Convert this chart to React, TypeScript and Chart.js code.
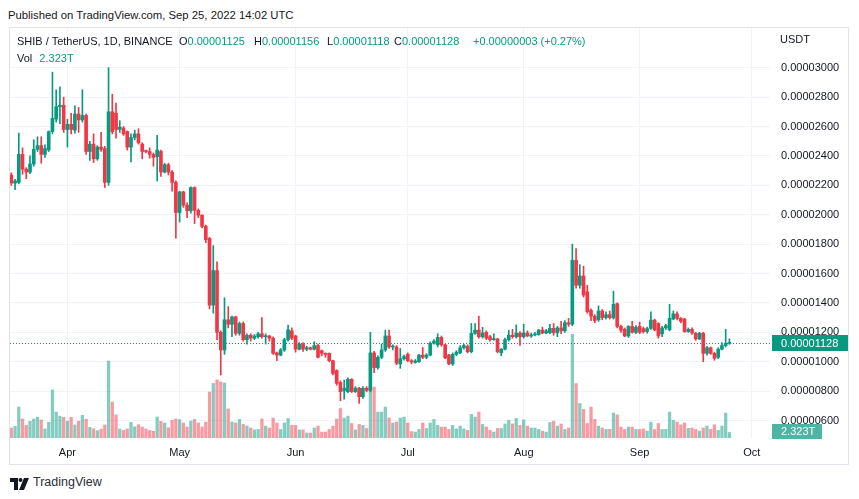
import React, { useEffect, useRef } from "react";
import { Chart, registerables } from "chart.js";

Chart.register(...registerables);

// Prices are in micro-USDT (1 = 0.000001 USDT); volumes in trillions (T).
// Day index 0 = 2022-03-17, daily candles to 2022-09-25.
const OPEN = [
  22.7, 22.15, 22.2, 24.1, 23.1, 22.9, 23.45, 24.45, 24.7, 24.1,
  24.4, 25.65, 26.5, 27.35, 27.45, 25.8, 26.15, 25.75, 26.85, 26.45,
  26.75, 24.3, 24.8, 23.8, 24.6, 24.5, 22.2, 27.0, 26.9, 25.8,
  25.9, 25.65, 24.6, 25.25, 25.5, 24.8, 24.35, 24.3, 24.1, 23.95,
  24.3, 22.9, 23.4, 22.9, 22.2, 20.15, 21.55, 20.65, 20.27, 21.85,
  20.3, 19.97, 19.2, 18.4, 13.85, 16.2, 12.0, 10.8, 12.85, 12.55,
  13.05, 11.93, 12.6, 11.5, 11.8, 11.6, 11.7, 11.9, 11.7, 11.75,
  11.6, 10.6, 10.45, 10.8, 11.5, 12.1, 11.75, 10.85, 11.2, 10.85,
  10.95, 10.85, 11.1, 10.75, 10.57, 10.57, 10.07, 9.4, 8.6, 8.02,
  7.96, 8.8, 7.96, 8.2, 7.62, 8.2, 8.05, 10.6, 9.6, 10.3,
  10.8, 11.75, 11.0, 11.0, 9.85, 10.2, 10.5, 10.07, 9.95, 10.0,
  10.45, 10.3, 10.45, 11.25, 11.15, 11.65, 11.15, 10.45, 9.85, 10.5,
  10.6, 10.95, 11.05, 10.68, 11.93, 12.15, 11.7, 12.0, 11.7, 11.5,
  11.55, 10.6, 10.85, 11.5, 11.8, 11.7, 11.95, 11.7, 11.95, 11.75,
  11.82, 11.85, 12.15, 11.95, 11.97, 12.27, 11.97, 12.3, 12.1, 12.65,
  12.55, 16.9, 15.2, 15.83, 14.75, 13.5, 13.1, 12.85, 13.45, 13.0,
  13.2, 12.98, 13.95, 12.4, 12.2, 11.75, 12.4, 12.0, 12.4, 12.25,
  12.05, 12.27, 12.83, 12.6, 11.9, 12.3, 12.17, 12.9, 13.25, 12.95,
  12.9, 12.05, 12.2, 11.93, 11.55, 11.93, 10.57, 10.95, 10.57, 10.3,
  10.85, 11.1, 11.25,
];
const HIGH = [
  22.85, 22.4, 25.55, 24.55, 23.2, 24.0, 25.1, 25.3, 25.3, 24.75,
  25.7, 29.7, 28.5, 28.7, 28.0, 26.5, 26.9, 27.4, 27.3, 28.5,
  26.85, 25.0, 25.5, 24.7, 25.6, 24.65, 30.0, 28.2, 27.6, 26.4,
  26.0, 25.7, 25.5, 25.75, 25.85, 24.9, 24.4, 24.55, 24.2, 25.4,
  24.4, 23.5, 23.5, 23.0, 22.3, 21.6, 21.6, 20.8, 21.9, 21.9,
  20.4, 20.0, 19.3, 18.45, 17.9, 16.8, 12.1, 14.35, 13.75, 13.1,
  13.1, 12.7, 12.7, 11.9, 11.9, 11.85, 12.0, 13.0, 11.9, 11.8,
  11.7, 10.65, 10.9, 11.6, 12.5, 12.3, 11.8, 11.3, 11.3, 11.05,
  11.0, 11.36, 11.2, 10.8, 10.6, 10.6, 10.1, 9.45, 8.7, 8.75,
  8.9, 8.85, 8.3, 8.25, 8.3, 8.3, 12.0, 10.7, 10.4, 11.2,
  12.15, 12.15, 11.15, 11.1, 10.9, 10.45, 10.6, 10.15, 10.15, 10.5,
  10.97, 10.55, 11.35, 11.5, 11.9, 11.75, 11.2, 10.5, 10.6, 10.75,
  11.1, 11.2, 11.15, 12.6, 12.6, 13.1, 12.34, 12.1, 11.8, 11.9,
  11.6, 10.9, 11.6, 12.15, 12.2, 12.5, 12.05, 12.55, 12.1, 11.95,
  12.0, 12.2, 12.35, 12.2, 12.55, 12.6, 12.4, 12.75, 12.8, 12.95,
  18.0, 17.7, 16.6, 16.5, 15.2, 13.6, 13.2, 13.8, 13.55, 13.4,
  13.45, 14.8, 14.0, 12.5, 12.3, 12.45, 12.75, 12.45, 12.7, 12.35,
  12.35, 13.4, 12.9, 12.65, 12.4, 12.55, 13.9, 13.45, 13.4, 13.0,
  12.95, 12.3, 12.3, 12.0, 12.0, 12.0, 11.05, 11.0, 10.65, 10.95,
  11.3, 12.2, 11.56,
];
const LOW = [
  22.0, 21.7, 22.1, 22.75, 22.45, 22.8, 23.3, 24.3, 23.5, 23.9,
  24.3, 25.5, 26.3, 26.2, 25.6, 24.6, 25.5, 25.55, 25.6, 26.3,
  24.1, 23.7, 23.55, 23.7, 24.3, 21.85, 22.0, 25.5, 25.2, 25.6,
  25.4, 24.4, 23.6, 25.1, 24.8, 23.8, 24.2, 23.85, 23.3, 22.3,
  22.6, 22.85, 22.7, 21.6, 18.4, 19.5, 20.5, 19.8, 20.1, 19.4,
  19.8, 19.1, 18.1, 13.6, 13.3, 11.5, 9.1, 10.5, 12.3, 11.7,
  11.8, 11.8, 11.4, 11.2, 11.4, 11.5, 11.6, 11.6, 11.2, 11.4,
  10.5, 10.07, 10.4, 10.7, 11.4, 11.5, 10.65, 10.8, 10.7, 10.75,
  10.8, 10.8, 10.25, 10.4, 10.3, 10.0, 9.1, 8.4, 7.35, 7.45,
  7.9, 7.9, 7.9, 7.17, 7.5, 7.95, 7.95, 9.25, 9.5, 10.2,
  10.7, 10.9, 10.8, 9.8, 9.55, 10.1, 10.0, 9.85, 9.9, 9.95,
  10.2, 10.2, 10.4, 11.2, 11.0, 11.05, 10.2, 9.8, 9.75, 10.4,
  10.55, 10.85, 10.6, 10.6, 11.85, 11.6, 11.6, 11.5, 11.4, 11.45,
  10.6, 10.4, 10.8, 11.4, 11.6, 11.6, 11.1, 11.6, 11.7, 11.65,
  11.75, 11.8, 11.9, 11.9, 11.9, 11.8, 11.7, 11.9, 12.0, 12.4,
  12.45, 15.0, 15.0, 14.4, 13.3, 12.8, 12.65, 12.75, 12.85, 12.9,
  12.9, 12.9, 12.3, 12.0, 11.7, 11.65, 11.95, 11.9, 11.9, 11.95,
  11.95, 12.2, 12.1, 11.6, 11.7, 12.2, 12.1, 12.85, 12.85, 12.65,
  12.0, 12.0, 11.85, 11.45, 11.5, 10.0, 10.45, 10.5, 10.1, 10.2,
  10.8, 11.0, 11.18,
];
const CLOSE = [
  22.15, 22.3, 24.1, 23.1, 22.9, 23.45, 24.45, 24.7, 24.1, 24.5,
  25.65, 26.55, 27.35, 27.45, 25.8, 26.15, 25.8, 26.85, 26.45, 26.75,
  24.3, 24.8, 23.8, 24.6, 24.45, 22.2, 27.0, 25.65, 25.8, 25.95,
  25.5, 24.6, 25.25, 25.5, 24.9, 24.3, 24.3, 24.1, 23.9, 24.4,
  22.9, 23.4, 22.9, 22.2, 20.15, 21.55, 20.65, 20.27, 21.85, 20.3,
  19.97, 19.2, 18.3, 13.85, 16.2, 12.0, 10.8, 12.85, 12.55, 13.05,
  11.93, 12.6, 11.5, 11.8, 11.6, 11.75, 11.9, 11.7, 11.75, 11.6,
  10.57, 10.45, 10.8, 11.5, 12.17, 11.6, 10.85, 11.2, 10.85, 10.95,
  10.85, 11.1, 10.3, 10.57, 10.5, 10.07, 9.2, 8.53, 7.96, 8.2,
  8.8, 7.96, 8.2, 7.62, 8.2, 8.05, 10.6, 9.6, 10.3, 10.8,
  11.75, 11.0, 11.05, 9.9, 10.2, 10.35, 10.07, 9.98, 10.05, 10.45,
  10.3, 10.45, 11.25, 11.4, 11.65, 11.15, 10.25, 9.85, 10.5, 10.65,
  10.95, 11.1, 10.68, 11.93, 12.15, 11.7, 11.95, 11.6, 11.5, 11.55,
  10.68, 10.85, 11.5, 11.8, 11.7, 11.95, 11.7, 11.95, 11.75, 11.82,
  11.85, 12.15, 11.95, 12.1, 12.27, 11.97, 12.3, 12.1, 12.65, 12.55,
  16.9, 15.2, 15.83, 14.53, 13.4, 13.1, 12.8, 13.45, 13.0, 13.2,
  13.0, 13.9, 12.4, 12.15, 11.75, 12.4, 12.0, 12.35, 12.0, 12.05,
  12.25, 12.83, 12.15, 11.75, 12.3, 12.45, 12.95, 13.25, 12.95, 12.75,
  12.05, 12.2, 11.95, 11.55, 11.93, 10.57, 10.95, 10.57, 10.23, 10.85,
  11.1, 11.25, 11.28,
];
const VOLUME = [
  4.2, 4.9, 13.0, 8.0, 5.3, 7.0, 8.0, 8.7, 7.6, 3.8,
  6.6, 20.2, 10.9, 9.2, 8.7, 7.1, 8.7, 5.5, 7.1, 9.5,
  7.9, 4.5, 3.9, 3.1, 3.7, 5.5, 32.3, 15.1, 9.7, 3.8,
  3.2, 3.8, 6.6, 4.7, 5.6, 4.6, 3.8, 3.2, 2.8, 8.8,
  7.0, 6.3, 4.3, 7.4, 8.0, 7.7, 6.3, 4.6, 7.1, 7.8,
  6.3, 4.6, 6.7, 19.3, 22.9, 24.4, 23.5, 23.1, 12.2, 6.7,
  6.3, 7.8, 5.7, 5.0, 4.2, 3.4, 3.6, 8.0, 5.0, 4.2,
  8.4, 6.3, 3.6, 6.3, 8.2, 5.3, 5.3, 3.4, 3.4, 2.1,
  2.1, 4.2, 5.0, 2.5, 2.5, 3.6, 5.0, 8.0, 12.4, 8.4,
  9.2, 6.1, 3.4, 5.7, 5.3, 4.0, 21.8, 21.4, 10.9, 10.9,
  13.0, 8.4, 6.3, 6.7, 8.4, 8.8, 6.3, 2.7, 2.5, 3.6,
  6.3, 4.0, 6.3, 7.8, 5.3, 4.6, 4.6, 3.6, 5.3, 3.8,
  5.0, 3.8, 3.2, 9.9, 8.8, 10.9, 5.7, 4.6, 3.2, 2.5,
  4.0, 4.0, 5.9, 7.4, 5.9, 8.2, 5.3, 7.6, 5.0, 4.2,
  4.2, 3.6, 2.9, 2.5, 6.5, 7.1, 5.0, 5.9, 3.6, 4.2,
  43.5, 22.9, 14.5, 12.0, 6.1, 13.0, 7.8, 5.0, 4.2, 3.6,
  3.6, 10.5, 9.7, 4.6, 3.6, 4.6, 4.6, 3.6, 3.6, 3.8,
  2.9, 6.7, 3.6, 6.1, 3.6, 3.6, 10.9, 7.4, 6.7, 5.5,
  6.3, 4.0, 4.2, 3.6, 2.9, 4.2, 5.0, 3.6, 5.5, 3.2,
  5.0, 10.5, 2.323,
];

const MONTH_TICK_DAYS = [15, 45, 76, 106, 137, 168, 198];
const MONTH_LABELS = ["Apr", "May", "Jun", "Jul", "Aug", "Sep", "Oct"];
const PRICE_TICKS = [6, 8, 10, 12, 14, 16, 18, 20, 22, 24, 26, 28, 30];

const X_MIN = -0.35;
const X_MAX = 202.85;
const Y_MIN = 4.81;
const Y_MAX = 32.77;
const VOL_MAX = 172.6;

const UP = "#089981";
const DOWN = "#f23645";
const UP_VOL = "rgba(8,153,129,0.5)";
const DOWN_VOL = "rgba(242,54,69,0.5)";
const GRID = "#f0f3fa";
const TEXT = "#131722";
const FONT = "'Liberation Sans', Arial, sans-serif";

const lastPricePlugin = {
  id: "lastPrice",
  afterDraw(chart: any) {
    const { ctx, chartArea, scales } = chart;
    const last = CLOSE.length - 1;
    const y = Math.round(scales.y.getPixelForValue(CLOSE[last])) + 0.5;
    ctx.save();
    ctx.strokeStyle = UP;
    ctx.lineWidth = 1;
    ctx.setLineDash([1, 2]);
    ctx.beginPath();
    ctx.moveTo(chartArea.left, y);
    ctx.lineTo(chartArea.right, y);
    ctx.stroke();
    ctx.setLineDash([]);
    const bx = chartArea.right + 2;
    ctx.fillStyle = UP;
    ctx.fillRect(bx, y - 8.5, 76, 16);
    ctx.fillStyle = "#ffffff";
    ctx.font = `11px ${FONT}`;
    ctx.textBaseline = "middle";
    ctx.textAlign = "left";
    ctx.fillText((CLOSE[last] / 1e6).toFixed(8), chartArea.right + 11, y);
    const vy = Math.round(scales.yv.getPixelForValue(VOLUME[last]));
    ctx.fillStyle = "rgba(8,153,129,0.72)";
    ctx.fillRect(bx, vy - 8, 50, 15);
    ctx.fillStyle = "#ffffff";
    ctx.fillText(VOLUME[last].toFixed(3) + "T", chartArea.right + 11, vy);
    ctx.restore();
  },
};

export default function App() {
  const ref = useRef<HTMLCanvasElement>(null);
  useEffect(() => {
    const idx = CLOSE.map((_, i) => i);
    const up = idx.map((i) => CLOSE[i] >= OPEN[i]);
    const chart = new Chart(ref.current as HTMLCanvasElement, {
      type: "bar",
      data: {
        datasets: [
          {
            label: "body",
            data: idx.map((i) => ({ x: i, y: [OPEN[i], CLOSE[i]] })) as any,
            backgroundColor: idx.map((i) => (up[i] ? UP : DOWN)),
            barThickness: 3,
            minBarLength: 1,
            grouped: false,
            order: 1,
            yAxisID: "y",
          } as any,
          {
            label: "wick",
            data: idx.map((i) => ({ x: i, y: [LOW[i], HIGH[i]] })) as any,
            backgroundColor: idx.map((i) => (up[i] ? UP : DOWN)),
            barThickness: 1,
            grouped: false,
            order: 2,
            yAxisID: "y",
          } as any,
          {
            label: "volume",
            data: idx.map((i) => ({ x: i, y: VOLUME[i] })) as any,
            backgroundColor: idx.map((i) => (up[i] ? UP_VOL : DOWN_VOL)),
            barThickness: 2.6,
            grouped: false,
            order: 3,
            yAxisID: "yv",
          } as any,
        ],
      },
      options: {
        animation: false,
        responsive: false,
        maintainAspectRatio: false,
        layout: { padding: { left: 1, top: 0, right: 0, bottom: 0 } },
        plugins: { legend: { display: false }, tooltip: { enabled: false } },
        scales: {
          x: {
            type: "linear",
            min: X_MIN,
            max: X_MAX,
            offset: false,
            grid: { offset: false, color: GRID, drawTicks: false },
            border: { display: false },
            afterBuildTicks: (s: any) => {
              s.ticks = MONTH_TICK_DAYS.map((v) => ({ value: v }));
            },
            afterFit: (s: any) => {
              s.height = 27;
              s.paddingLeft = 0;
              s.paddingRight = 0;
              s.paddingTop = 0;
              s.paddingBottom = 0;
            },
            ticks: {
              autoSkip: false,
              maxRotation: 0,
              padding: 8,
              color: TEXT,
              font: { family: FONT, size: 11 },
              callback: (v: any) => MONTH_LABELS[MONTH_TICK_DAYS.indexOf(Number(v))] ?? "",
            },
          } as any,
          y: {
            type: "linear",
            position: "right",
            min: Y_MIN,
            max: Y_MAX,
            grid: { color: GRID, drawTicks: false },
            border: { display: false },
            afterBuildTicks: (s: any) => {
              s.ticks = PRICE_TICKS.map((v) => ({ value: v }));
            },
            afterFit: (s: any) => {
              s.width = 79;
              s.paddingTop = 0;
              s.paddingBottom = 0;
              s.paddingLeft = 0;
              s.paddingRight = 0;
            },
            ticks: {
              padding: 11,
              color: TEXT,
              font: { family: FONT, size: 11 },
              callback: (v: any) => (Number(v) / 1e6).toFixed(8),
            },
          } as any,
          yv: {
            type: "linear",
            display: false,
            min: 0,
            max: VOL_MAX,
          } as any,
        },
      },
      plugins: [lastPricePlugin],
    });
    return () => chart.destroy();
  }, []);

  const base: React.CSSProperties = {
    position: "absolute",
    fontFamily: FONT,
    color: TEXT,
    whiteSpace: "nowrap",
    lineHeight: "14px",
  };
  const val: React.CSSProperties = { color: UP };

  return (
    <div
      style={{
        position: "absolute",
        left: 0,
        top: 0,
        width: 859,
        height: 499,
        background: "#ffffff",
        overflow: "hidden",
      }}
    >
      <div style={{ ...base, left: 8, top: 8, fontSize: 11.3 }}>
        Published on TradingView.com, Sep 25, 2022 14:02 UTC
      </div>
      <canvas
        ref={ref}
        width={840}
        height={438}
        style={{ position: "absolute", left: 9, top: 27, width: 840, height: 438 }}
      />
      <div
        style={{
          position: "absolute",
          left: 9,
          top: 27,
          width: 840,
          height: 438,
          boxSizing: "border-box",
          border: "1px solid #e0e3eb",
          pointerEvents: "none",
        }}
      />
      <div style={{ ...base, left: 17, top: 34, fontSize: 11 }}>SHIB / TetherUS, 1D, BINANCE</div>
      <div style={{ ...base, left: 179, top: 34, fontSize: 11 }}>
        O<span style={val}>0.00001125</span>
      </div>
      <div style={{ ...base, left: 254, top: 34, fontSize: 11 }}>
        H<span style={val}>0.00001156</span>
      </div>
      <div style={{ ...base, left: 327, top: 34, fontSize: 11 }}>
        L<span style={val}>0.00001118</span>
      </div>
      <div style={{ ...base, left: 394, top: 34, fontSize: 11 }}>
        C<span style={val}>0.00001128</span>
      </div>
      <div style={{ ...base, left: 473, top: 34, fontSize: 11, color: UP }}>
        +0.00000003 (+0.27%)
      </div>
      <div style={{ ...base, left: 17, top: 51, fontSize: 11 }}>
        Vol <span style={{ ...val, marginLeft: 4 }}>2.323T</span>
      </div>
      <div style={{ ...base, left: 780, top: 32, fontSize: 11 }}>USDT</div>
      <div style={{ position: "absolute", left: 10, top: 476 }}>
        <svg width="20" height="12" viewBox="0 0 20 12">
          <path d="M0 0 H8 V12 H4 V4 H0 Z" fill={TEXT} />
          <circle cx="10.5" cy="2" r="2" fill={TEXT} />
          <path d="M14 0 H19 L14 12 H9 Z" fill={TEXT} />
        </svg>
      </div>
      <div style={{ ...base, left: 33, top: 475, fontSize: 12.5, color: "#2a2e39" }}>TradingView</div>
    </div>
  );
}
